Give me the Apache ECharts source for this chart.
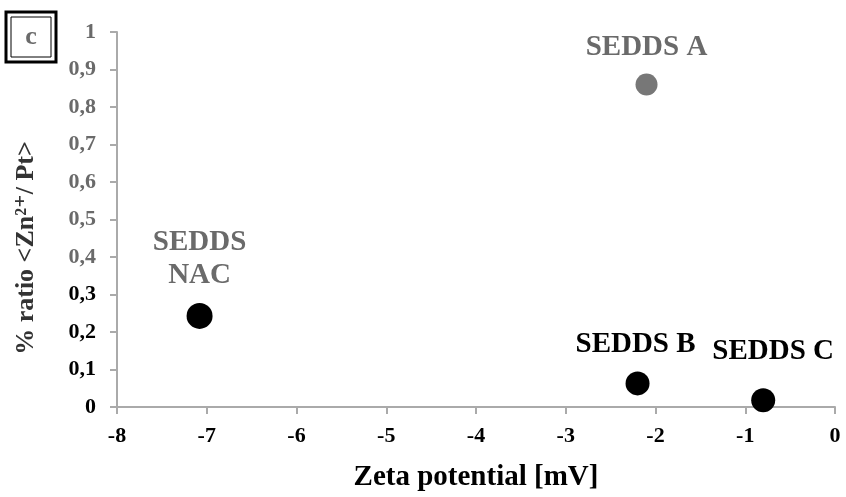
<!DOCTYPE html>
<html>
<head>
<meta charset="utf-8">
<script src="https://cdn.jsdelivr.net/npm/echarts@6/dist/echarts.min.js"></script>
<style>
html,body{margin:0;padding:0;background:#fff;}
#c{width:846px;height:497px;}
</style>
</head>
<body>
<div id="c"></div>
<script>
const sampleNames = ['SEDDS\nNAC', 'SEDDS A', 'SEDDS B', 'SEDDS C'];
const zetaPotential = [-7.08, -2.10, -2.20, -0.80];
const ratioValues = [0.243, 0.86, 0.063, 0.018];
const xTicks = [-8, -7, -6, -5, -4, -3, -2, -1, 0];
const yTicks = [0, 0.1, 0.2, 0.3, 0.4, 0.5, 0.6, 0.7, 0.8, 0.9, 1];
const xTitle = 'Zeta potential [mV]';
const yTitle = '% ratio <Zn²⁺/ Pt>';
const panelLabel = 'c';

const FONT = '"Liberation Serif", "DejaVu Serif", serif';
const faded = '#6a6a6a';

const labelStyles = [
  {offset: [0, -57], color: faded, lineHeight: 33},
  {offset: [0, -37], color: faded},
  {offset: [-2, -39], color: '#000'},
  {offset: [10, -49], color: '#000'}
];
const symbolSizes = [26, 22, 24, 24];
const symbolColors = ['#000', '#777', '#000', '#000'];

const data = zetaPotential.map((x, i) => ({
  value: [x, ratioValues[i]],
  name: sampleNames[i],
  symbolSize: symbolSizes[i],
  itemStyle: {color: symbolColors[i], opacity: 1},
  label: {
    show: true,
    position: 'inside',
    formatter: sampleNames[i],
    offset: labelStyles[i].offset,
    color: labelStyles[i].color,
    lineHeight: labelStyles[i].lineHeight || 30,
    fontFamily: FONT,
    fontWeight: 'bold',
    fontSize: 29
  }
}));

const chart = echarts.init(document.getElementById('c'));
chart.setOption({
  animation: false,
  backgroundColor: '#fff',
  grid: {left: 117, right: 11, top: 32, bottom: 82, containLabel: false},
  xAxis: {
    type: 'value',
    min: xTicks[0],
    max: xTicks[xTicks.length - 1],
    interval: 1,
    splitLine: {show: false},
    axisLine: {onZero: false, lineStyle: {color: '#aaa', width: 2}},
    axisTick: {show: true, length: 7, lineStyle: {color: '#aaa', width: 2}},
    axisLabel: {
      color: '#000', fontFamily: FONT, fontWeight: 'bold', fontSize: 22, margin: 18,
      formatter: v => String(v)
    },
    name: xTitle,
    nameLocation: 'middle',
    nameGap: 56,
    nameTextStyle: {color: '#000', fontFamily: FONT, fontWeight: 'bold', fontSize: 29}
  },
  yAxis: {
    type: 'value',
    min: yTicks[0],
    max: yTicks[yTicks.length - 1],
    interval: 0.1,
    splitLine: {show: false},
    axisLine: {onZero: false, lineStyle: {color: '#aaa', width: 2}},
    axisTick: {show: true, length: 7, lineStyle: {color: '#aaa', width: 2}},
    axisLabel: {
      fontFamily: FONT, fontWeight: 'bold', fontSize: 22, margin: 21,
      color: v => (v > 0.35 ? faded : '#000'),
      formatter: v => String(Math.round(v * 10) / 10).replace('.', ',')
    }
  },
  series: [{
    type: 'scatter',
    symbol: 'circle',
    data: data
  }],
  graphic: [
    {
      type: 'text',
      x: 26, y: 248,
      rotation: Math.PI / 2,
      style: {
        text: yTitle,
        x: 0, y: 0,
        align: 'center', verticalAlign: 'middle',
        fill: '#333',
        font: 'bold 26px ' + FONT
      }
    },
    {
      type: 'rect',
      shape: {x: 6, y: 12, width: 50, height: 50},
      style: {fill: 'none', stroke: '#000', lineWidth: 3}
    },
    {
      type: 'rect',
      shape: {x: 11, y: 17, width: 40, height: 40},
      style: {fill: 'none', stroke: '#000', lineWidth: 1}
    },
    {
      type: 'text',
      style: {
        text: panelLabel,
        x: 31, y: 37,
        align: 'center', verticalAlign: 'middle',
        fill: faded,
        font: 'bold 26px ' + FONT
      }
    }
  ]
});
</script>
</body>
</html>
